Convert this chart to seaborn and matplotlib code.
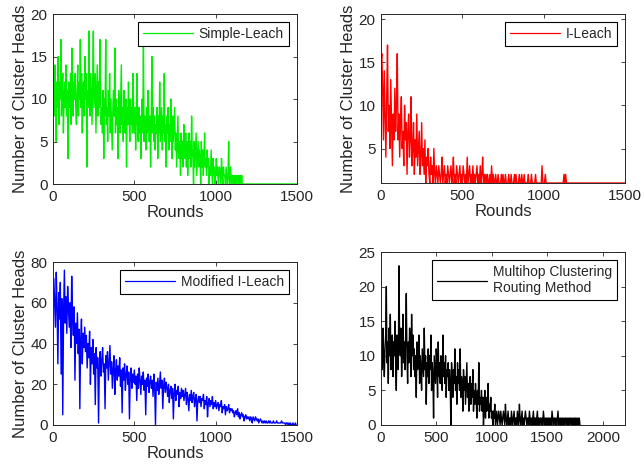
import matplotlib
matplotlib.use("Agg")
import matplotlib.pyplot as plt
import seaborn as sns
import pandas as pd

# ---------------- data ----------------
simple_step = 4
simple_leach = [
    10, 13, 8, 14, 11, 5, 12, 9, 15, 7, 12, 10, 17, 8, 11, 13, 6, 10, 12, 9,
    14, 8, 11, 3, 12, 10, 9, 13, 7, 16, 11, 8, 12, 10, 13, 9, 7, 11, 14, 8,
    12, 10, 17, 9, 13, 6, 11, 12, 8, 15, 10, 13, 2, 11, 9, 18, 12, 8, 13, 10,
    7, 12, 18, 9, 11, 13, 6, 10, 14, 8, 12, 9, 17, 11, 7,
    9, 6, 11, 3, 10, 8, 17, 7, 9, 5, 11, 8, 13, 6, 10, 7, 4, 9, 11, 8,
    16, 6, 10, 7, 9, 3, 11, 8, 6, 10, 14, 7, 9, 5, 11, 8, 6, 10, 2, 9,
    7, 12, 8, 5, 10, 7, 9, 6, 13, 8,
    6, 9, 4, 8, 13, 7, 5, 9, 6, 8, 3, 7, 10, 6, 17, 5, 8, 7, 4, 9,
    6, 11, 7, 5, 8, 2, 7, 15, 6, 9, 5, 8, 4, 7, 6, 9, 3, 8, 6, 12,
    5, 7, 9, 4, 8, 6, 13, 5, 7, 2, 8, 6, 9, 4, 7, 5, 10, 6, 3, 8,
    5, 7, 9,
    4, 6, 2, 5, 8, 3, 5, 4, 1, 6, 3, 5, 2, 7, 4, 3, 6, 2, 5, 1,
    4, 6, 3, 5, 2, 8, 4, 3, 0, 5, 2, 4, 6, 1, 3, 5, 2, 4, 3, 0,
    5, 2, 4, 1, 3, 6, 2, 3, 1, 4,
    2, 3, 0, 2, 1, 4, 2, 0, 3, 1, 2, 0, 1, 3, 1, 2, 0, 1, 2, 1,
    0, 3, 1, 0, 2, 1, 1, 0, 2, 1, 0, 1, 5, 0, 1, 2, 0, 1,
    1, 0, 1, 1, 0, 1, 0, 1, 1, 0, 1, 0, 1, 0, 1, 0,
]
simple_end = (1500, 0)

ileach_step = 5
i_leach = [
    15, 16, 12, 6, 14, 9, 4, 11, 17, 7, 10, 5, 13, 8, 3, 9, 6, 12, 7, 10,
    16, 6, 9, 4, 8, 11, 5, 7, 3, 10, 6, 8, 2, 7, 9, 4, 6, 11, 3, 5, 8, 2, 6, 4, 9, 3, 5, 7, 2, 4,
    8, 3, 5, 2, 6, 1, 4, 3, 5, 2, 1, 4, 2, 3, 1, 5, 2, 1, 3, 2,
    1, 3, 2, 1, 2, 4, 1, 2, 3, 1, 2, 1, 3, 2, 1, 2, 3, 1, 2, 4, 1, 2, 1, 3, 2, 1, 2, 3, 1, 2,
    1, 3, 2, 1, 2, 1, 4, 1, 2, 3, 1, 2, 1, 3, 1, 2, 1, 2, 3, 1, 2, 1, 3, 1, 2, 4, 1, 2, 1, 2,
    1, 2, 1, 1, 2, 1, 3, 1, 2, 1, 1, 2, 1, 1, 2, 1, 1, 1, 2, 1, 2, 1, 1, 2, 1, 1, 1, 2, 1, 1,
    2, 1, 1, 1, 2, 1, 2, 1, 1, 1, 2, 1, 1, 2, 1, 1, 2, 1, 1, 1, 1, 2, 1, 1, 1, 2, 1, 1, 1, 1,
    2, 1, 1, 1, 1, 1, 1, 1, 3, 1,
    1, 1, 2, 1, 1, 1, 1, 1, 1, 1, 1, 1, 1, 1, 1, 1, 1, 1, 1, 1, 1, 1, 1, 1, 1, 2, 1, 2, 1, 1,
    1, 1,
]
ileach_end = (1500, 1)

mod_step = 5
modified_i_leach = [
    55, 72, 60, 48, 75, 58, 30, 65, 52, 70, 25, 62, 5, 55, 76, 50, 63, 45, 68, 57,
    48, 60, 38, 73, 52, 44, 58, 22, 50, 40, 55, 35, 47, 8, 42, 52, 30, 45, 38, 48,
    36, 44, 28, 40, 33, 46, 20, 38, 30, 42, 25, 35, 10, 38, 28, 33, 1, 30, 36, 24,
    32, 38, 26, 30, 8, 34, 28, 36, 22, 30, 39, 25, 31, 18, 28, 34, 15, 27, 32, 22,
    29, 24, 33, 19, 27, 6, 28, 22, 30, 17, 25, 29, 20, 26, 3, 24, 28, 18, 25, 21,
    27, 20, 24, 12, 25, 18, 28, 22, 15, 24, 20, 26, 17, 22, 5, 23, 19, 25, 16, 21,
    24, 18, 22, 14, 25, 19, 0, 21, 17, 23, 15, 20, 26, 18, 22, 8, 19, 23, 16, 21,
    18, 14, 20, 11, 17, 19, 13, 18, 3, 16, 20, 12, 17, 15, 19, 9, 16, 13, 18, 14,
    17, 12, 15, 18, 10, 16, 13, 7, 15, 12, 17, 11, 14, 16, 9, 13, 15, 2, 12, 14,
    11, 14, 9, 13, 12, 15, 8, 12, 10, 14, 4, 11, 13, 9, 12, 10, 14, 8, 11, 9,
    12, 8, 10, 11, 7, 10, 9, 12, 6, 9, 8, 10, 5, 9, 7, 8, 10, 6, 8, 7,
    8, 6, 7, 4, 6, 7, 5, 8, 4, 6, 3, 5, 6, 4, 5, 2, 4, 5, 3, 4,
    3, 4, 2, 4, 3, 1, 4, 3, 2, 4, 3, 2, 3, 1, 2, 3, 2, 1, 2, 1,
    2, 1, 2, 1, 1, 2, 1, 2, 1, 1, 1, 2, 1, 1, 1, 2, 1, 1, 1, 1,
    1, 2, 1, 1, 1, 1, 0, 1, 1, 0, 1, 0, 1, 0, 0, 1, 0, 0, 1, 0,
]

multi_step = 6
multihop = [
    9, 12, 8, 14, 10, 7, 11, 13, 20, 9, 12, 6, 14, 10, 16, 8, 11, 13, 7, 12,
    10, 15, 9, 5, 13, 11, 8, 23, 12, 10, 14, 7, 11, 16, 9, 12, 8, 13, 19, 10,
    6, 12, 9, 14, 11, 7, 16, 10, 13, 8,
    11, 7, 10, 4, 12, 8, 9, 13, 6, 10, 8, 5, 11, 9, 7, 14, 8, 10, 3, 9,
    7, 11, 6, 10, 8, 13, 5, 9, 7, 1, 10, 8, 6, 11, 9, 4, 12, 7, 9, 6,
    10, 8, 5, 13, 7, 9, 6, 10, 4, 8,
    7, 9, 5, 8, 6, 0, 9, 7, 4, 8, 6, 11, 5, 7, 3, 9, 6, 8, 5, 11,
    4, 7, 6, 2, 8, 5, 7, 3, 6, 9, 4, 6, 2, 5, 7, 3, 6, 4, 8, 2,
    5, 3, 6, 4, 1, 5, 3, 9, 2, 4,
    3, 5, 2, 4, 0, 3, 5, 1, 4, 2, 3, 6, 1, 3, 2, 4, 1, 2, 0, 2,
    1, 3, 0, 1, 2, 0, 1, 2, 1, 0, 2, 1, 0, 1, 2, 1, 0, 3, 1, 0,
    1, 2, 0, 1, 1, 0, 2, 1, 0, 1,
    2, 0, 1, 1, 0, 2, 1, 0, 3, 1, 0, 1, 2, 0, 1, 0, 1, 2, 1, 0,
    1, 1, 0, 2, 1, 0, 1, 0, 1, 2, 0, 1, 1, 0, 1, 2, 0, 1, 0, 1,
    1, 0, 1, 0, 2, 1, 0, 1, 0, 1,
    1, 0, 1, 1, 0, 1, 0, 2, 1, 0, 1, 1, 0, 1, 0, 1, 2, 0, 1, 0,
    1, 1, 0, 1, 0, 1, 0, 1, 1, 0, 1, 0, 1, 0, 1, 1, 0, 1, 0, 1,
    0, 1, 1, 0, 1, 0, 1, 0, 1, 0,
]

labels = ["Simple-Leach", "I-Leach", "Modified I-Leach", "Multihop Clustering\nRouting Method"]
colors = ["#00ee00", "#ff0000", "#0000ff", "#000000"]


def frame(vals, step, end=None):
    x = [i * step for i in range(len(vals))]
    y = list(vals)
    if end is not None:
        x.append(end[0])
        y.append(end[1])
    return pd.DataFrame({"Rounds": x, "CH": y})


frames = [
    frame(simple_leach, simple_step, simple_end),
    frame(i_leach, ileach_step, ileach_end),
    frame(modified_i_leach, mod_step),
    frame(multihop, multi_step),
]

# ---------------- style ----------------
sns.set_theme(style="ticks")
plt.rcParams["font.family"] = ["Liberation Sans", "DejaVu Sans"]
plt.rcParams["axes.edgecolor"] = "#262626"
plt.rcParams["xtick.color"] = "#262626"
plt.rcParams["ytick.color"] = "#262626"
plt.rcParams["axes.linewidth"] = 0.7

fig = plt.figure(figsize=(6.44, 4.71), dpi=100)
W, H = 644, 471
boxes = [(53, 297, 14, 184), (381, 625, 14, 183), (53, 297, 262, 425), (381, 625, 252, 425)]
axes = [fig.add_axes([l / W, 1 - b / H, (r - l) / W, (b - t) / H]) for (l, r, t, b) in boxes]

xlims = [(0, 1500), (0, 1500), (0, 1500), (0, 2200)]
ylims = [(0, 20), (1, 20.6), (0, 80), (0, 25)]
xticks = [[0, 500, 1000, 1500]] * 3 + [[0, 500, 1000, 1500, 2000]]
yticks = [[0, 5, 10, 15, 20], [5, 10, 15, 20], [0, 20, 40, 60, 80], [0, 5, 10, 15, 20, 25]]

for i, ax in enumerate(axes):
    sns.lineplot(data=frames[i], x="Rounds", y="CH", ax=ax, color=colors[i],
                 linewidth=1.0, estimator=None, label=labels[i])
    ax.set_xlim(*xlims[i])
    ax.set_ylim(*ylims[i])
    ax.set_xticks(xticks[i])
    ax.set_yticks(yticks[i])
    for s in ax.spines.values():
        s.set_visible(True)
    ax.tick_params(direction="in", top=True, right=True, length=3, width=0.6,
                   labelsize=11, labelcolor="#262626", pad=4)
    if i < 3:
        ax.set_xlabel("Rounds", fontsize=12, color="#262626", labelpad=1)
        ax.set_ylabel("Number of Cluster Heads", fontsize=12, color="#262626", labelpad=2)
    else:
        ax.set_xlabel("")
        ax.set_ylabel("")
    leg = ax.legend(loc="upper right", fontsize=10, handlelength=3.6, frameon=True,
                    fancybox=False, framealpha=1, edgecolor="black", borderpad=0.35,
                    borderaxespad=0.6, handletextpad=0.4, labelspacing=0.2)
    leg.get_frame().set_linewidth(0.8)
    for line in leg.get_lines():
        line.set_linewidth(0.9)

fig.savefig("out.png", dpi=100)
